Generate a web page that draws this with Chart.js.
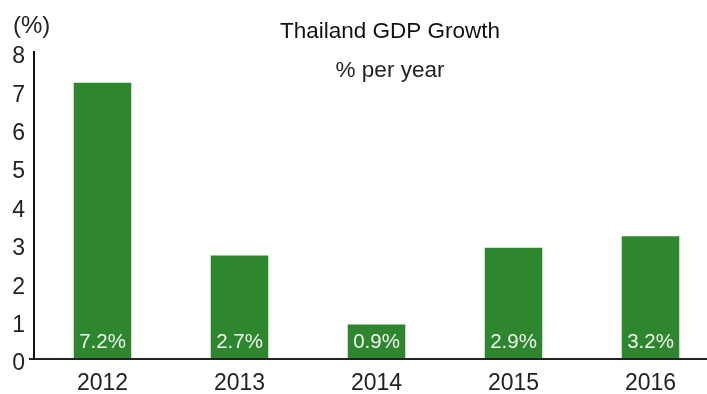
<!DOCTYPE html>
<html>
<head>
<meta charset="utf-8">
<script src="https://cdn.jsdelivr.net/npm/chart.js@4"></script>
<style>
  html, body { margin: 0; padding: 0; background: #fff; overflow: hidden; }
  #wrap { width: 707px; height: 394px; overflow: hidden; }
</style>
</head>
<body>
<div id="wrap"><canvas id="gdpChart" width="722" height="394"></canvas></div>
<script>
// GDP growth, % per year
const years = ['2012', '2013', '2014', '2015', '2016'];
const growth = [7.2, 2.7, 0.9, 2.9, 3.2];
const yTicks = [0, 1, 2, 3, 4, 5, 6, 7, 8];

const FONT = '"Liberation Sans", Arial, sans-serif';

// titles and the unit label in the top-left corner
const headerText = {
  id: 'headerText',
  afterDraw(chart) {
    const ctx = chart.ctx;
    ctx.save();
    ctx.fillStyle = '#111';
    ctx.textAlign = 'center';
    ctx.textBaseline = 'middle';
    ctx.font = '22.5px ' + FONT;
    ctx.fillText('Thailand GDP Growth', 390, 32);
    ctx.fillStyle = '#222';
    ctx.font = '22.5px ' + FONT;
    ctx.fillText('% per year', 390, 71);
    ctx.textAlign = 'left';
    ctx.font = '24px ' + FONT;
    ctx.fillText('(%)', 13, 26);
    ctx.restore();
  }
};

// value labels sitting at the foot of each bar
const barValues = {
  id: 'barValues',
  afterDatasetsDraw(chart) {
    const ctx = chart.ctx;
    const meta = chart.getDatasetMeta(0);
    const base = chart.scales.y.getPixelForValue(0);
    ctx.save();
    ctx.fillStyle = '#eef5ee';
    ctx.font = '20.5px ' + FONT;
    ctx.textAlign = 'center';
    ctx.textBaseline = 'alphabetic';
    meta.data.forEach((bar, i) => {
      ctx.fillText(growth[i].toFixed(1) + '%', bar.x, base - 11);
    });
    ctx.restore();
  }
};

new Chart(document.getElementById('gdpChart'), {
  type: 'bar',
  data: {
    labels: years,
    datasets: [{
      data: growth,
      backgroundColor: '#2e862e',
      barPercentage: 0.42,
      categoryPercentage: 1
    }]
  },
  options: {
    responsive: false,
    devicePixelRatio: 1,
    animation: false,
    layout: { padding: { top: 52, right: 3, left: 0, bottom: 0 } },
    plugins: { legend: { display: false }, tooltip: { enabled: false } },
    scales: {
      x: {
        grid: { display: false },
        border: { display: true, color: '#222', width: 2 },
        ticks: { color: '#222', font: { family: FONT, size: 23 }, padding: 3 },
        afterFit(scale) { scale.height = 35; }
      },
      y: {
        min: 0,
        max: 8,
        afterBuildTicks(scale) { scale.ticks = yTicks.map(v => ({ value: v })); },
        grid: {
          drawOnChartArea: false,
          drawTicks: true,
          tickLength: 5,
          lineWidth: 2,
          color: ctx => (ctx.tick && ctx.tick.value === 0 ? '#222' : 'rgba(0,0,0,0)')
        },
        border: { display: true, color: '#111', width: 2 },
        ticks: {
          color: '#222',
          font: { family: FONT, size: 23 },
          padding: 4,
          labelOffset: 5
        },
        afterFit(scale) { scale.width = 34; }
      }
    }
  },
  plugins: [headerText, barValues]
});
</script>
</body>
</html>
